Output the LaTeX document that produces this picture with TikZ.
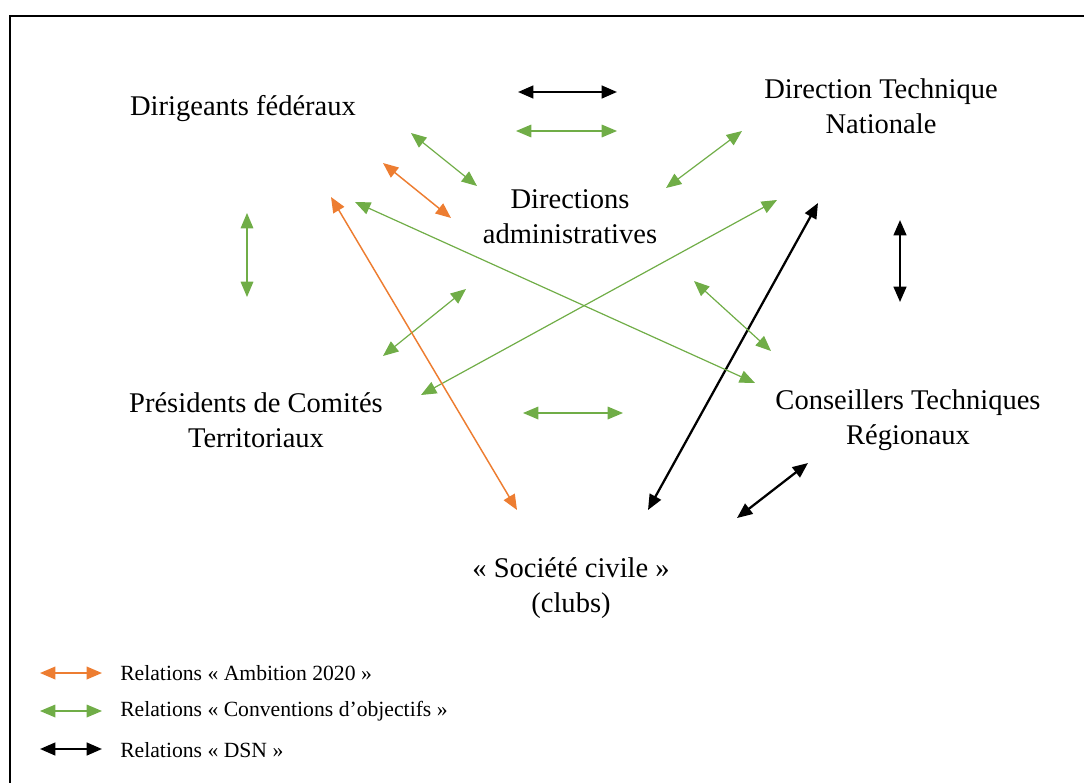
\documentclass[tikz,border=0pt]{standalone}
\usepackage{fontspec}
\setmainfont{Liberation Serif}
\usetikzlibrary{arrows.meta}
\definecolor{orng}{HTML}{ED7D31}
\definecolor{grn}{HTML}{70AD47}
\begin{document}
\begin{tikzpicture}[x=0.75pt,y=-0.75pt,
  lbl/.style={align=center,inner sep=0pt,font=\fontsize{21.4}{26.25}\selectfont},
  leg/.style={anchor=west,inner sep=0pt,font=\fontsize{16.25}{19}\selectfont},
  blk/.style={draw=black,line width=1.7pt,{Triangle[length=11.5pt,width=9.5pt]}-{Triangle[length=11.5pt,width=9.5pt]}},
  grl/.style={draw=grn,line width=0.9pt,{Triangle[length=11.5pt,width=9.5pt]}-{Triangle[length=11.5pt,width=9.5pt]}},
  orl/.style={draw=orng,line width=1.1pt,{Triangle[length=11.5pt,width=9.5pt]}-{Triangle[length=11.5pt,width=9.5pt]}}]
\useasboundingbox (0,0) rectangle (1084,782);
\clip (0,0) rectangle (1084,782);
\draw[line width=1.6pt] (10,1000) -- (10,16) -- (1200,16);
% labels
\node[lbl] (dir) at (243,109) {Dirigeants fédéraux};
\node[lbl] (dtn) at (881,106) {Direction Technique\\Nationale};
\node[lbl] (da) at (570,217) {Directions\\administratives};
\node[lbl] (pct) at (256,420) {Présidents de Comités\\Territoriaux};
\node[lbl] (ctr) at (908,420) {Conseillers Techniques\\Régionaux};
\node[lbl] (sc) at (571,588) {« Société civile »\\(clubs)};
% endpoints
\coordinate (b1a) at (518,92); \coordinate (b1b) at (617,92);
\coordinate (b2a) at (900,220); \coordinate (b2b) at (900,302);
\coordinate (b3a) at (818,203); \coordinate (b3b) at (648,510);
\coordinate (b4a) at (808,463); \coordinate (b4b) at (737,518);
\coordinate (g1a) at (516,131); \coordinate (g1b) at (617,131);
\coordinate (g2a) at (411,133); \coordinate (g2b) at (477,186);
\coordinate (g3a) at (742,131); \coordinate (g3b) at (666,188);
\coordinate (g4a) at (247,213); \coordinate (g4b) at (247,297);
\coordinate (g5a) at (355,202); \coordinate (g5b) at (755,383);
\coordinate (g6a) at (777,200); \coordinate (g6b) at (421,395);
\coordinate (g7a) at (466,289); \coordinate (g7b) at (383,356);
\coordinate (g8a) at (694,281); \coordinate (g8b) at (771,351);
\coordinate (g9a) at (523,413); \coordinate (g9b) at (623,413);
\coordinate (o1a) at (383,163); \coordinate (o1b) at (451,218);
\coordinate (o2a) at (331,197); \coordinate (o2b) at (517,510);
\draw[blk] (b1a) -- (b1b);
\draw[blk] (b2a) -- (b2b);
\draw[blk] (b3a) -- (b3b);
\draw[blk] (b4a) -- (b4b);
\draw[grl] (g1a) -- (g1b);
\draw[grl] (g2a) -- (g2b);
\draw[grl] (g3a) -- (g3b);
\draw[grl] (g4a) -- (g4b);
\draw[grl] (g5a) -- (g5b);
\draw[grl] (g6a) -- (g6b);
\draw[grl] (g7a) -- (g7b);
\draw[grl] (g8a) -- (g8b);
\draw[grl] (g9a) -- (g9b);
\draw[orl] (o1a) -- (o1b);
\draw[orl] (o2a) -- (o2b);
% legend
\coordinate (lo1) at (40,673); \coordinate (lo2) at (102,673);
\coordinate (lg1) at (40,711); \coordinate (lg2) at (102,711);
\coordinate (lb1) at (40,749); \coordinate (lb2) at (102,749);
\draw[orl] (lo1) -- (lo2);
\draw[grl] (lg1) -- (lg2);
\draw[blk] (lb1) -- (lb2);
\node[leg] (t1) at (120,673) {Relations « Ambition 2020 »};
\node[leg] (t2) at (120,711) {Relations « Conventions d’objectifs »};
\node[leg] (t3) at (120,750) {Relations « DSN »};
\end{tikzpicture}
\end{document}
